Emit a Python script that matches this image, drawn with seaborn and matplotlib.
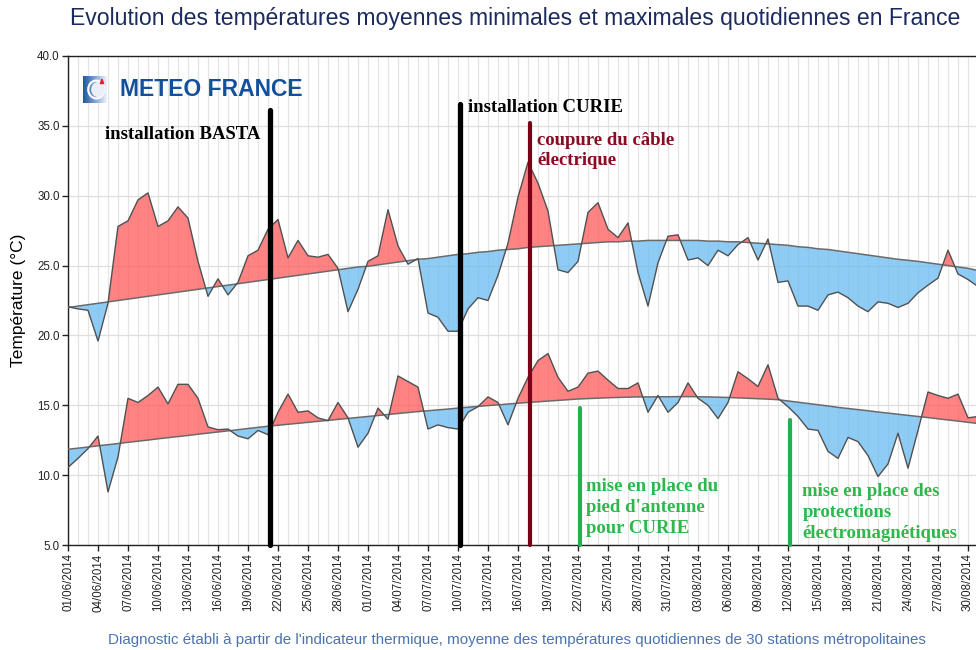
import numpy as np
import pandas as pd
import matplotlib
matplotlib.use("Agg")
import matplotlib.pyplot as plt
from matplotlib.patches import Circle, Polygon
import seaborn as sns

# ---------------------------------------------------------------- data
dates = pd.date_range("2014-06-01", "2014-08-31", freq="D")

tmax = [22.05, 21.9, 21.8, 19.6, 22.3, 27.8, 28.2, 29.7, 30.2, 27.8,
        28.2, 29.2, 28.4, 25.3, 22.8, 24.05, 22.9, 23.8, 25.7, 26.1,
        27.6, 28.3, 25.55, 26.8, 25.7, 25.6, 25.8, 24.8, 21.7, 23.3,
        25.3, 25.7, 29.0, 26.4, 25.1, 25.5, 21.6, 21.3, 20.3, 20.3,
        21.9, 22.7, 22.5, 24.3, 26.6, 29.9, 32.4, 30.9, 28.9, 24.7,
        24.5, 25.3, 28.8, 29.5, 27.6, 27.0, 28.05, 24.5, 22.1, 25.2,
        27.1, 27.2, 25.4, 25.55, 25.0, 26.1, 25.7, 26.5, 27.0, 25.4,
        26.9, 23.8, 23.9, 22.1, 22.1, 21.8, 22.9, 23.1, 22.7, 22.1,
        21.7, 22.4, 22.3, 22.0, 22.3, 23.05, 23.6, 24.1, 26.1, 24.4,
        24.0, 23.5]

tmax_normal = [22.0, 22.1, 22.2, 22.3, 22.4, 22.5, 22.6, 22.7, 22.8, 22.9,
               23.0, 23.1, 23.2, 23.3, 23.4, 23.5, 23.6, 23.7, 23.8, 23.9,
               24.0, 24.1, 24.2, 24.3, 24.4, 24.5, 24.6, 24.7, 24.8, 24.9,
               24.95, 25.05, 25.15, 25.25, 25.35, 25.45, 25.5, 25.6, 25.7, 25.8,
               25.85, 25.95, 26.0, 26.1, 26.15, 26.2, 26.3, 26.35, 26.4, 26.45,
               26.5, 26.55, 26.6, 26.65, 26.7, 26.7, 26.75, 26.75, 26.8, 26.8,
               26.8, 26.8, 26.8, 26.8, 26.75, 26.75, 26.7, 26.7, 26.65, 26.6,
               26.55, 26.5, 26.45, 26.35, 26.3, 26.2, 26.15, 26.05, 25.95, 25.85,
               25.75, 25.65, 25.55, 25.45, 25.38, 25.3, 25.2, 25.1, 25.0, 24.9,
               24.8, 24.65]

tmin = [10.55, 11.2, 11.9, 12.8, 8.8, 11.3, 15.5, 15.2, 15.7, 16.3,
        15.1, 16.5, 16.5, 15.5, 13.45, 13.25, 13.3, 12.8, 12.6, 13.2,
        12.9, 14.5, 15.8, 14.5, 14.6, 14.1, 13.9, 15.2, 14.1, 12.0,
        13.0, 14.8, 14.0, 17.1, 16.7, 16.3, 13.3, 13.6, 13.4, 13.3,
        14.5, 14.9, 15.6, 15.2, 13.6, 15.5, 17.0, 18.2, 18.7, 17.0,
        16.0, 16.3, 17.3, 17.45, 16.8, 16.2, 16.2, 16.6, 14.5, 15.7,
        14.5, 15.2, 16.6, 15.5, 15.0, 14.05, 15.2, 17.4, 16.9, 16.35,
        17.9, 15.5, 14.9, 14.2, 13.3, 13.2, 11.7, 11.2, 12.7, 12.4,
        11.4, 9.9, 10.8, 13.0, 10.5, 13.2, 15.95, 15.7, 15.5, 15.8,
        14.1, 14.2]

tmin_normal = [11.85, 11.93, 12.01, 12.10, 12.18, 12.26, 12.35, 12.43, 12.51, 12.60,
               12.68, 12.76, 12.84, 12.93, 13.01, 13.09, 13.17, 13.25, 13.34, 13.42,
               13.50, 13.57, 13.64, 13.71, 13.78, 13.85, 13.92, 13.99, 14.06, 14.13,
               14.20, 14.27, 14.34, 14.41, 14.48, 14.55, 14.61, 14.67, 14.73, 14.80,
               14.86, 14.92, 14.98, 15.03, 15.09, 15.15, 15.20, 15.25, 15.30, 15.35,
               15.40, 15.45, 15.48, 15.51, 15.54, 15.56, 15.58, 15.60, 15.60, 15.61,
               15.61, 15.62, 15.62, 15.61, 15.60, 15.58, 15.56, 15.53, 15.50, 15.47,
               15.44, 15.40, 15.31, 15.22, 15.13, 15.04, 14.95, 14.85, 14.77, 14.69,
               14.61, 14.52, 14.44, 14.36, 14.28, 14.20, 14.12, 14.03, 13.95, 13.87,
               13.78, 13.70]

event_dates = ["2014-06-21", "2014-07-10", "2014-07-17", "2014-07-22", "2014-08-12"]
event_labels = ["installation BASTA",
                "installation CURIE",
                "coupure du câble\nélectrique",
                "mise en place du\npied d'antenne\npour CURIE",
                "mise en place des\nprotections\nélectromagnétiques"]

title = "Evolution des températures moyennes minimales et maximales quotidiennes en France"
footer = ("Diagnostic établi à partir de l'indicateur thermique, moyenne des "
          "températures quotidiennes de 30 stations métropolitaines")

# ---------------------------------------------------------------- frame
day = np.arange(len(dates))
df = pd.DataFrame({"day": day, "tmax": tmax, "tmax_normal": tmax_normal,
                   "tmin": tmin, "tmin_normal": tmin_normal})

sns.set_theme(style="white")
plt.rcParams["font.family"] = ["Liberation Sans", "DejaVu Sans"]

W, H = 976, 650
fig = plt.figure(figsize=(W / 100, H / 100), dpi=100)
ax = fig.add_axes([68 / W, 105 / H, 908 / W, 489 / H])

RED = "#ff5a5a"
BLUE = "#6abcf2"

# daily vertical grid + horizontal grid
ax.set_xticks(day, minor=True)
ax.grid(which="minor", axis="x", color="#e4e4e4", lw=0.9, zorder=0)
ax.grid(which="major", axis="y", color="#dedede", lw=0.9, zorder=0)
ax.grid(which="major", axis="x", color="#e4e4e4", lw=0.9, zorder=0)
ax.set_axisbelow(True)

for obs, norm in (("tmax", "tmax_normal"), ("tmin", "tmin_normal")):
    o = df[obs].to_numpy()
    n = df[norm].to_numpy()
    ax.fill_between(df["day"], o, n, where=o >= n, interpolate=True,
                    color=RED, alpha=0.75, lw=0, zorder=2)
    ax.fill_between(df["day"], o, n, where=o <= n, interpolate=True,
                    color=BLUE, alpha=0.75, lw=0, zorder=2)
    sns.lineplot(data=df, x="day", y=norm, ax=ax, color="#6a6a6a", lw=1.1, zorder=3)
    sns.lineplot(data=df, x="day", y=obs, ax=ax, color="#505050", lw=1.0, zorder=4)

ax.set_xlim(0, 90.8)
ax.set_ylim(5, 40)
ax.set_xlabel("")
ax.set_ylabel("")

xt = day[::3]
ax.set_xticks(xt)
ax.set_xticklabels([d.strftime("%d/%m/%Y") for d in dates[::3]],
                   rotation=90, fontsize=8.3, color="#222222")
ax.set_yticks(np.arange(5, 41, 5))
ax.set_yticklabels([f"{v:.1f}" for v in np.arange(5, 41, 5)], fontsize=8.3, color="#222222")
ax.tick_params(axis="both", which="major", direction="out", length=4, width=1,
               color="#222222", pad=2, bottom=True, left=True)
ax.tick_params(axis="x", which="minor", length=0)

for side in ("left", "bottom", "top"):
    ax.spines[side].set_visible(True)
    ax.spines[side].set_color("#222222")
    ax.spines[side].set_linewidth(1.0)
ax.spines["right"].set_visible(False)

# ---------------------------------------------------------------- events
start = dates[0]
ev_x = [(pd.Timestamp(d) - start).days + 0.2 for d in event_dates]
ev_top = [36.1, 36.6, 35.2, 14.8, 13.95]
ev_color = ["black", "black", "#7d0019", "#22b14c", "#22b14c"]
ev_lw = [3.8, 3.8, 3.0, 3.0, 3.0]
for x, top, c, lw in zip(ev_x, ev_top, ev_color, ev_lw):
    ax.plot([x, x], [5, top], color=c, lw=lw, solid_capstyle="round",
            zorder=6, clip_on=False)

serif = dict(family=["Liberation Serif", "DejaVu Serif"], fontweight="bold", fontsize=13.5)
ax.text(ev_x[0] - 1.0, 34.35, event_labels[0], ha="right", va="center",
        color="black", zorder=7, **serif)
ax.text(ev_x[1] + 0.75, 36.3, event_labels[1], ha="left", va="center",
        color="black", zorder=7, **serif)
ax.text(ev_x[2] + 0.7, 34.55, event_labels[2], ha="left", va="top",
        color="#8b0a24", linespacing=1.22, zorder=7, **serif)
ax.text(ev_x[3] + 0.65, 9.8, event_labels[3], ha="left", va="top",
        color="#2db84d", linespacing=1.32, zorder=7, **serif)
ax.text(ev_x[4] + 1.25, 9.45, event_labels[4], ha="left", va="top",
        color="#2db84d", linespacing=1.32, zorder=7, **serif)

# ---------------------------------------------------------------- logo
lax = fig.add_axes([83 / W, 1 - 103 / H, 24 / W, 27 / H])
grad = np.linspace(0, 1, 64)[None, :]
lax.imshow(grad, cmap=matplotlib.colors.LinearSegmentedColormap.from_list(
    "mf", ["#1f56a3", "#7ea2d2", "#f2f5fa"]), aspect="auto", extent=(0, 1, 0, 1))
lax.add_patch(Circle((0.55, 0.5), 0.33, facecolor="none", edgecolor="white", lw=1.6))
lax.add_patch(Circle((0.62, 0.5), 0.28, facecolor="#e9eef7", edgecolor="none"))
lax.add_patch(Polygon([[0.72, 0.72], [0.86, 0.72], [0.79, 0.88]], color="#e8202a"))
lax.set_xlim(0, 1)
lax.set_ylim(0, 1)
lax.axis("off")
fig.text(120 / W, 1 - 90 / H, "METEO FRANCE", ha="left", va="center",
         fontsize=16.5, fontweight="bold", color="#13509b")

# ---------------------------------------------------------------- texts
fig.text(70 / W, 1 - 18 / H, title, ha="left", va="center",
         fontsize=16.6, color="#1c2b5e")
fig.text(517 / W, 1 - 640 / H, footer, ha="center", va="center",
         fontsize=10.9, color="#4a72b0")
fig.text(19 / W, 1 - 300 / H, "Température (°C)", rotation=90,
         ha="center", va="center", fontsize=12.5, color="black")

fig.savefig("out.png", dpi=100)
